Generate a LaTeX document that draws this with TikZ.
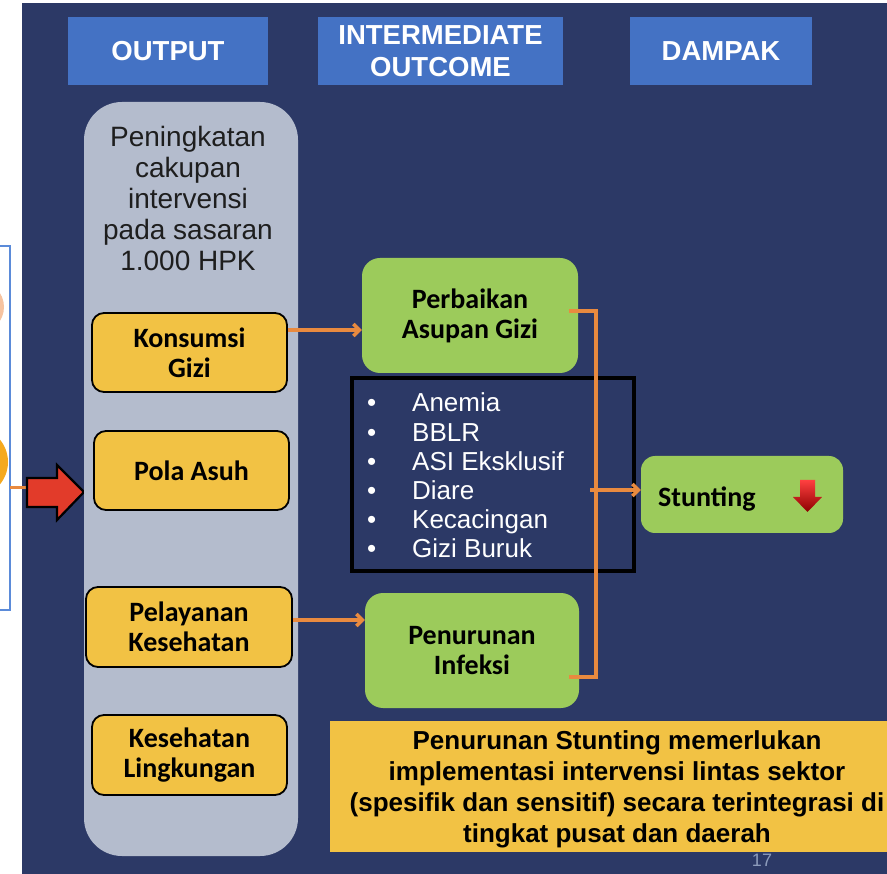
\documentclass[tikz,border=0pt]{standalone}
\usepackage{fontspec}
\setmainfont{Liberation Sans}
\newfontfamily\calibrifont{Carlito}
\usetikzlibrary{arrows.meta}

\definecolor{navy}{HTML}{2C3966}
\definecolor{hdrblue}{HTML}{4472C4}
\definecolor{colgray}{HTML}{B4BCCD}
\definecolor{outyellow}{HTML}{F2C244}
\definecolor{outgreen}{HTML}{9CCB5B}
\definecolor{connorange}{HTML}{E98A3F}
\definecolor{arrowred}{HTML}{E23B2A}
\definecolor{peach}{HTML}{F6C3A0}
\definecolor{sunorange}{HTML}{F5A91E}
\definecolor{framblue}{HTML}{5B8BD9}
\definecolor{darktext}{HTML}{1E1E1E}
\definecolor{pagegray}{HTML}{8C9BBB}

\begin{document}
\begin{tikzpicture}[x=1pt,y=-1pt,
  header/.style={rectangle, fill=hdrblue, text=white, inner sep=0pt,
    minimum height=68pt, align=center,
    font=\bfseries\fontsize{27.5}{32}\selectfont},
  outbox/.style={rectangle, rounded corners=12pt, fill=outyellow, draw=black,
    line width=1.8pt, inner sep=0pt, align=center, text=black,
    font=\calibrifont\bfseries\fontsize{28}{30}\selectfont},
  resultbox/.style={rectangle, rounded corners=18pt, fill=outgreen,
    inner sep=0pt, align=center, text=black,
    font=\calibrifont\bfseries\fontsize{28}{30}\selectfont},
  conn/.style={draw=connorange, line width=3.5pt,
    -{Straight Barb[length=6pt,width=12pt]}},
  bracketline/.style={draw=connorange, line width=3.5pt},
  listitem/.style={anchor=base west, inner sep=0pt, text=white,
    font=\fontsize{26}{29}\selectfont}
]
\useasboundingbox (0,0) rectangle (887,874);
\clip (0,0) rectangle (887,874);

% page background
\fill[white] (0,0) rectangle (887,874);
\fill[navy] (22,3) rectangle (887,874);

% neighbouring panel on the left
\fill[peach] (-22,307) circle[radius=26pt];
\fill[sunorange] (-27,462) circle[radius=35pt];
\draw[framblue, line width=1.6pt] (-5,246) rectangle (10,610);
\draw[connorange, line width=3pt] (10,488) -- (27,488);
\draw[black, line width=2.2pt, fill=arrowred, line join=miter]
  (27,478) -- (57,478) -- (57,465) -- (84,492) -- (57,520) -- (57,507)
  -- (27,507) -- cycle;

% column headers
\node[header, minimum width=200pt] (hout) at (168,51.5) {OUTPUT};
\node[header, minimum width=245pt] (hint) at (440.5,51.5)
  {INTERMEDIATE\\OUTCOME};
\node[header, minimum width=182pt] (hdam) at (721,51.5) {DAMPAK};

% output column
\fill[colgray, rounded corners=38pt] (84,102) rectangle (298,856);
\node[text=darktext, align=center, inner sep=0pt,
  font=\fontsize{28}{31}\selectfont] (intro) at (188,198)
  {Peningkatan\\cakupan\\intervensi\\pada sasaran\\1.000 HPK};

\node[outbox, minimum width=195pt, minimum height=79pt] (konsumsi)
  at (189.5,352.5) {Konsumsi\\Gizi};
\node[outbox, minimum width=195pt, minimum height=79pt] (pola)
  at (191.5,470.5) {Pola Asuh};
\node[outbox, minimum width=206pt, minimum height=80pt] (pelayanan)
  at (189,627) {Pelayanan\\Kesehatan};
\node[outbox, minimum width=195pt, minimum height=80pt] (lingkungan)
  at (189.5,755) {Kesehatan\\Lingkungan};

% intermediate outcomes
\node[resultbox, minimum width=216pt, minimum height=115pt] (perbaikan)
  at (470,315.5) {Perbaikan\\Asupan Gizi};
\node[resultbox, minimum width=214pt, minimum height=115pt] (infeksi)
  at (472,650.5) {Penurunan\\Infeksi};

% list of conditions
\draw[black, line width=4pt] (352,378) rectangle (634,571);
\foreach \item [count=\i] in {Anemia, BBLR, ASI Eksklusif, Diare,
    Kecacingan, Gizi Buruk}
  \node[listitem] (item\i) at (367,{412+29.2*(\i-1)})
    {\makebox[45pt][l]{•}\item};

% impact
\node[resultbox, rounded corners=14pt, minimum width=202pt,
  minimum height=77pt] (stunting) at (742,494.5) {};
\node[anchor=base west, inner sep=0pt,
  font=\calibrifont\bfseries\fontsize{28}{30}\selectfont]
  (stunttext) at (658,507) {Stunting};
\shade[top color=red!75!white, bottom color=red!55!black]
  (800,480) -- (815,480) -- (815,497) -- (822,497) -- (807.5,512)
  -- (793,497) -- (800,497) -- cycle;

% connectors
\draw[conn] ([yshift=22.5pt]konsumsi.east)
  -- ([yshift=22.5pt]konsumsi.east -| perbaikan.west);
\draw[conn] ([yshift=7pt]pelayanan.east)
  -- ([yshift=7pt]pelayanan.east -| infeksi.west);
\coordinate (join) at (596,490);
\draw[bracketline] ([xshift=-9pt,yshift=4.5pt]perbaikan.east) -| (join)
  |- ([xshift=-10pt,yshift=-26.5pt]infeksi.east);
\draw[conn] ([xshift=-6pt]join) -- (join -| stunting.west);

% conclusion banner
\fill[outyellow] (330,721) rectangle (900,852);
\node[text=black, align=center, inner sep=0pt,
  font=\bfseries\fontsize{26}{31}\selectfont] (summary) at (617,789)
  {Penurunan Stunting memerlukan\\implementasi intervensi lintas sektor\\
   (spesifik dan sensitif) secara terintegrasi di\\tingkat pusat dan daerah};

% slide number
\node[text=pagegray, inner sep=0pt, font=\fontsize{18}{20}\selectfont]
  (pagenum) at (762,860) {17};
\end{tikzpicture}
\end{document}
